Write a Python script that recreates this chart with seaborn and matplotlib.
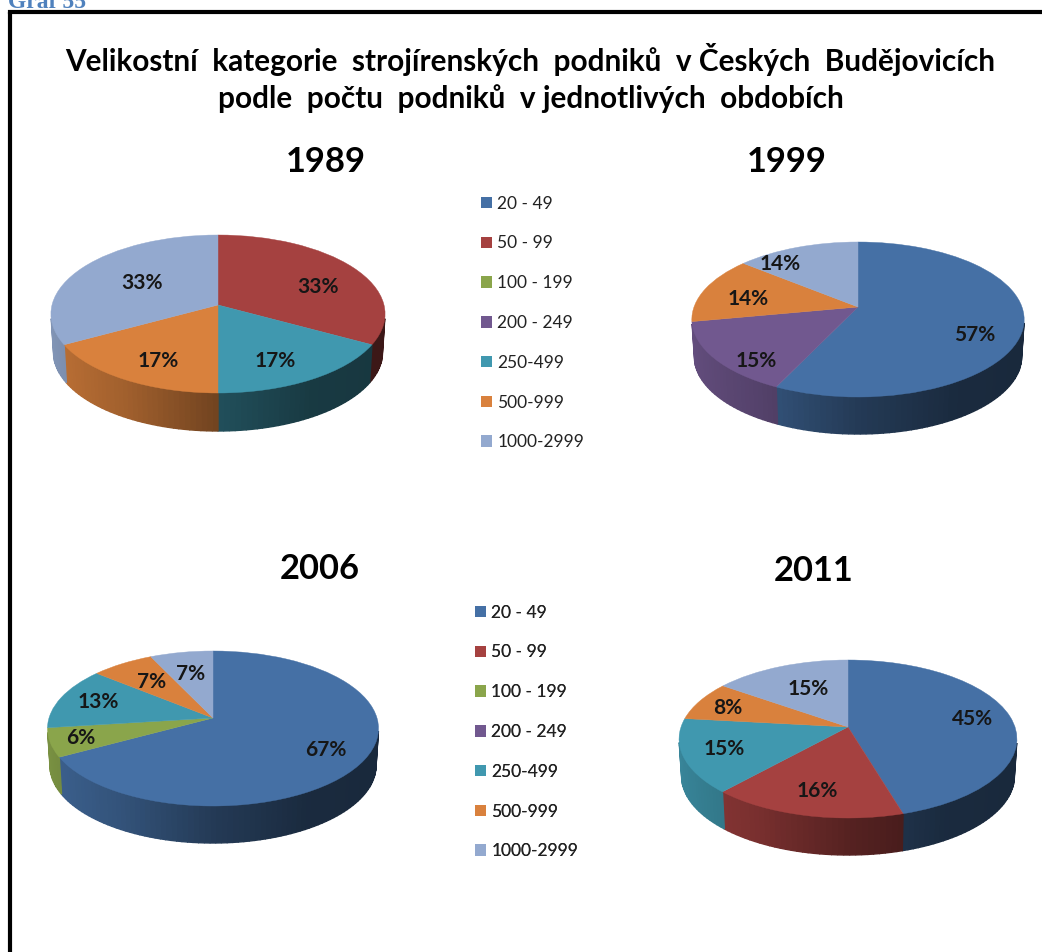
import numpy as np
import matplotlib
matplotlib.use("Agg")
import matplotlib.pyplot as plt
from matplotlib.patches import Patch
from matplotlib.transforms import Transform
import seaborn as sns

# data
categories = ["20 - 49", "50 - 99", "100 - 199", "200 - 249", "250-499", "500-999", "1000-2999"]
shares_1989 = [0, 33, 0, 0, 17, 17, 33]
shares_1999 = [57, 0, 0, 15, 0, 14, 14]
shares_2006 = [67, 0, 6, 0, 13, 7, 7]
shares_2011 = [45, 16, 0, 0, 15, 8, 15]
palette = sns.color_palette(["#4570A5", "#A54140", "#8AA54B", "#71588F", "#4098AF", "#D9813D", "#93A9CF"])

# pie geometry in image pixels: centre x, hub y, half width, back, front, wall depth
pies = [
    ("1989", shares_1989, (218, 305, 166, 70, 88, 38), (326, 162),
     [(318, 287), (275, 361), (158, 361), (142, 283)]),
    ("1999", shares_1999, (858, 307, 164, 65, 90, 37), (787, 162),
     [(975, 335), (756, 361), (748, 299), (780, 264)]),
    ("2006", shares_2006, (213, 718, 164, 67, 88, 37), (320, 569),
     [(326, 750), (81, 738), (98, 702), (152, 682), (191, 674)]),
    ("2011", shares_2011, (848, 727, 167, 67, 91, 37), (814, 571),
     [(973, 719), (817, 791), (724, 749), (728, 708), (808, 689)]),
]


class Tilt(Transform):
    # perspective view of the unit disc, output in pixels
    input_dims = 2
    output_dims = 2

    def __init__(self, cx, hub, rx, back, front):
        super().__init__()
        self.cx, self.hub, self.rx = cx, hub, rx
        self.k = (front - back) / (front + back)
        self.s = back * (1 + self.k)

    def transform_non_affine(self, values):
        values = np.asarray(values, dtype=float)
        w = 1 + self.k * values[:, 1]
        return np.column_stack([self.cx + self.rx * values[:, 0] / w,
                                self.hub - self.s * values[:, 1] / w])


def wall_shade(t):
    return np.interp(t, [-1, -0.5, 0, 0.5, 1], [0.88, 0.74, 0.52, 0.38, 0.36])


sns.set_theme(style="white")
plt.rcParams["font.family"] = ["Lato", "DejaVu Sans"]

fig = plt.figure(figsize=(10.42, 9.52), dpi=100)
ax = fig.add_axes([0, 0, 1, 1])

for year, shares, geom, year_pos, label_pos in pies:
    cx, hub, rx, back, front, depth = geom
    tilt = Tilt(cx, hub, rx, back, front)
    vals = np.array([v for v in shares if v > 0], dtype=float)
    cols = [c for c, v in zip(palette, shares) if v > 0]

    # side wall, strip by strip, only below the widest point of the rim
    edges = np.concatenate([[0], np.cumsum(vals / vals.sum())]) * 2 * np.pi
    for start, end, col in zip(edges[:-1], edges[1:], cols):
        steps = max(2, int((end - start) / 0.03))
        th = np.linspace(start, end, steps + 1)
        rim = tilt.transform_non_affine(np.column_stack([np.sin(th), np.cos(th)]))
        low_x = cx + (rim[:, 0] - cx) * 0.985
        for i in range(steps):
            mid = (th[i] + th[i + 1]) / 2
            if np.cos(mid) > -tilt.k - 0.05:
                continue
            c = tuple(np.array(col) * wall_shade(np.sin(mid)))
            ax.fill([rim[i, 0], rim[i + 1, 0], low_x[i + 1], low_x[i]],
                    [rim[i, 1], rim[i + 1, 1], rim[i + 1, 1] + depth, rim[i, 1] + depth],
                    color=c, linewidth=1, zorder=1)

    wedges, _, autotexts = ax.pie(vals, colors=cols, startangle=90, counterclock=False,
                                  autopct=lambda p: f"{p:.0f}%",
                                  wedgeprops={"linewidth": 0.3})
    for w in wedges:
        w.set_edgecolor(w.get_facecolor())
        w.set_transform(tilt + ax.transData)
        w.set_zorder(2)
    for t, pos in zip(autotexts, label_pos):
        t.set_transform(ax.transData)
        t.set_position(pos)
        t.set(fontsize=15, fontweight="bold", color="#161616", ha="center", va="center", zorder=3)

    ax.text(year_pos[0], year_pos[1], year, fontsize=24.8, fontweight="bold", color="black",
            ha="center", va="center")

ax.set_aspect("auto")
ax.set_xlim(0, 1042)
ax.set_ylim(952, 0)
ax.set_xticks([])
ax.set_yticks([])
ax.set_frame_on(False)

# titles
ax.text(530, 59, "Velikostní  kategorie  strojírenských  podniků  v Českých  Budějovicích",
        fontsize=21.4, fontweight="bold", color="black", ha="center", va="center")
ax.text(531, 99, "podle  počtu  podniků  v jednotlivých  obdobích",
        fontsize=21.4, fontweight="bold", color="black", ha="center", va="center")
ax.text(8, 8, "Graf 55", family="Liberation Serif", fontsize=17, fontweight="bold",
        color="#4F81BD", ha="left", va="baseline", clip_on=True)

# frame, only the top and left sides show
ax.plot([10, 10], [952, 12], color="black", linewidth=3, solid_joinstyle="miter", solid_capstyle="butt")
ax.plot([10, 1042], [12, 12], color="black", linewidth=3, solid_capstyle="projecting")

# two legends
handles = [Patch(facecolor=c, edgecolor="none", label=n) for c, n in zip(palette, categories)]
for anchor in [(465.3, 180), (459.3, 589)]:
    leg = ax.legend(handles=handles, loc="upper left", bbox_to_anchor=anchor,
                    bbox_transform=ax.transData, frameon=False, fontsize=12.5,
                    labelspacing=1.37, handlelength=0.65, handleheight=0.65,
                    handletextpad=0.29, labelcolor="#222222")
    ax.add_artist(leg)

fig.savefig("out.png", dpi=100)
